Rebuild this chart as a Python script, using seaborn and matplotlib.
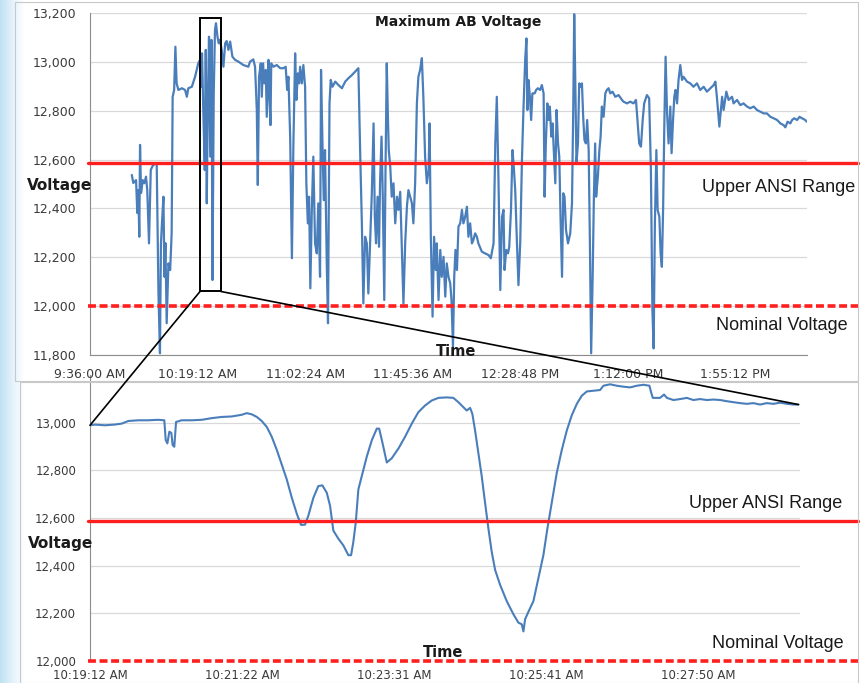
import numpy as np
import pandas as pd
import seaborn as sns
import matplotlib.pyplot as plt
from matplotlib.colors import LinearSegmentedColormap
from matplotlib.patches import Rectangle, ConnectionPatch
from matplotlib.ticker import FuncFormatter

# ---- upper chart: whole day, minutes after 9:36:00 AM ----
top_minutes = [
    16.8, 17.4, 18.5, 19.0, 19.4, 19.8, 20.1, 20.5, 21.2, 21.8,
    22.5, 23.0, 23.7, 24.4, 25.0, 26.1, 26.8, 27.5, 28.1, 28.5,
    28.9, 29.5, 29.9, 30.3, 30.8, 31.5, 32.2, 32.8, 33.2, 33.8,
    34.3, 34.8, 35.5, 36.9, 38.2, 38.9, 39.5, 40.9, 42.2, 43.5,
    44.2, 44.6, 45.0, 45.5, 46.1, 46.5, 46.9, 47.3, 47.8, 48.3,
    48.8, 49.2, 49.7, 50.2, 50.6, 51.2, 51.7, 52.2, 52.9, 53.6,
    54.3, 54.9, 55.6, 56.3, 57.2, 58.3, 59.6, 61.6, 63.6, 64.3,
    65.6, 66.3, 67.0, 67.4, 67.9, 68.6, 69.0, 69.5, 70.0, 70.6,
    71.0, 71.7, 72.1, 72.5, 72.8, 73.7, 75.0, 76.4, 77.7, 78.6,
    79.2, 79.7, 80.4, 81.1, 81.7, 82.4, 82.9, 83.5, 84.0, 84.4,
    85.1, 85.7, 86.4, 86.9, 87.5, 88.0, 88.5, 89.1, 89.7, 90.4,
    91.1, 91.7, 92.4, 92.8, 93.4, 93.9, 94.4, 95.1, 95.6, 96.2,
    96.7, 97.4, 98.5, 99.8, 101.2, 102.5, 103.8, 105.2, 106.5, 107.8,
    108.5, 109.2, 109.8, 110.5, 111.2, 111.8, 112.5, 113.2, 113.9, 114.4,
    114.9, 115.5, 116.1, 116.5, 117.1, 117.6, 118.2, 118.7, 119.2, 119.6,
    120.0, 120.6, 121.2, 121.9, 122.6, 123.3, 123.9, 124.6, 125.3, 125.9,
    126.6, 127.3, 127.9, 128.6, 129.3, 129.9, 130.6, 131.3, 131.9, 132.6,
    133.3, 133.9, 134.6, 135.3, 136.0, 136.4, 136.9, 137.6, 138.2, 138.9,
    139.3, 140.0, 140.7, 141.3, 142.0, 142.7, 143.3, 144.0, 144.7, 145.2,
    145.8, 146.3, 146.8, 147.4, 148.0, 148.7, 149.4, 150.0, 150.7, 151.4,
    152.0, 152.7, 153.4, 154.0, 154.7, 155.4, 156.0, 157.4, 158.7, 160.1,
    161.0, 162.1, 162.8, 163.4, 164.1, 164.8, 165.5, 166.1, 166.5, 167.2,
    167.9, 168.4, 169.1, 169.7, 170.3, 170.8, 171.5, 172.1, 172.8, 173.5,
    174.1, 174.8, 175.3, 175.7, 176.1, 176.7, 177.2, 177.7, 178.6, 179.2,
    179.9, 180.8, 181.5, 182.2, 182.6, 183.1, 183.7, 184.2, 184.7, 185.3,
    185.8, 186.3, 186.9, 187.4, 188.0, 188.5, 189.0, 189.6, 190.1, 190.6,
    191.2, 192.0, 192.9, 193.6, 194.1, 194.5, 194.9, 195.4, 196.0, 196.5,
    197.0, 197.6, 198.1, 198.6, 199.2, 199.7, 200.3, 200.8, 201.3, 201.9,
    202.4, 202.9, 203.3, 204.0, 204.6, 205.1, 205.6, 206.3, 207.0, 207.6,
    208.3, 209.0, 209.9, 211.0, 212.3, 213.7, 214.3, 215.7, 217.0, 218.3,
    219.3, 219.9, 220.6, 221.3, 222.0, 222.6, 223.7, 224.6, 225.3, 225.9,
    226.4, 226.9, 227.5, 228.0, 228.7, 229.2, 229.7, 230.2, 230.7, 231.2,
    231.8, 232.4, 233.1, 233.6, 234.2, 234.7, 235.2, 235.8, 236.4, 237.1,
    237.8, 238.4, 239.8, 241.1, 242.4, 243.8, 245.1, 246.5, 247.8, 249.2,
    250.5, 251.2, 251.8, 252.8, 253.9, 254.5, 255.6, 256.5, 257.9, 258.5,
    259.9, 261.2, 262.5, 263.9, 265.2, 266.6, 267.9, 269.3, 270.6, 271.9,
    273.3, 274.6, 276.0, 277.3, 278.6, 279.3, 280.2, 281.3, 282.0, 282.9,
    284.0, 285.0, 286.0, 287.3, 287.9,
]
top_volts = [
    12537, 12504, 12516, 12381, 12475, 12284, 12660, 12463, 12516, 12503,
    12530, 12475, 12257, 12557, 12571, 12585, 12578, 12052, 11807, 12257,
    12339, 12448, 12120, 12258, 11930, 12175, 12148, 12299, 12857, 12885,
    13062, 12912, 12885, 12892, 12885, 12857, 12892, 12898, 12939, 12994,
    13008, 12898, 13035, 12803, 12557, 13049, 12421, 12803, 13103, 12612,
    13090, 12107, 12871, 13130, 13158, 13103, 13076, 13090, 13049, 12980,
    13076, 13085, 13049, 13083, 13021, 13008, 13001, 12987, 12980, 13001,
    13010, 12980, 12803, 12496, 12939, 12994, 12857, 12994, 12912, 12967,
    12775, 13008, 12857, 12741, 12994, 12980, 12987, 12974, 12974, 12980,
    12885, 12939, 12694, 12196, 12666, 13035, 12844, 12953, 12912, 12980,
    12912, 12987, 12898, 12503, 12339, 12448, 12073, 12394, 12612, 12257,
    12216, 12421, 12120, 12967, 12653, 12434, 12639, 12175, 11930, 12830,
    12926, 12898, 12919, 12905, 12892, 12919, 12933, 12946, 12960, 12974,
    12639, 12339, 12011, 12284, 12257, 12052, 12257, 12462, 12748, 12366,
    12257, 12448, 12243, 12503, 12694, 12448, 12025, 12557, 12994, 12803,
    12639, 12571, 12448, 12503, 12339, 12448, 12394, 12468, 12230, 12011,
    12257, 12407, 12475, 12448, 12421, 12339, 12503, 12830, 12939, 12967,
    13015, 12857, 12612, 12503, 12557, 12748, 12284, 11957, 12284, 12148,
    12257, 12025, 12230, 12120, 12202, 12039, 12175, 12120, 12093, 12025,
    11834, 12120, 12230, 12148, 12325, 12339, 12394, 12339, 12366, 12407,
    12284, 12339, 12257, 12271, 12298, 12284, 12257, 12223, 12216, 12209,
    12196, 12257, 12666, 12857, 12503, 12066, 12366, 12394, 12148, 12230,
    12216, 12243, 12394, 12639, 12557, 12475, 12257, 12086, 12257, 12598,
    12803, 13008, 13096, 12803, 12926, 12857, 12762, 12871, 12871, 12885,
    12892, 12885, 12905, 12871, 12448, 12666, 12830, 12762, 12817, 12694,
    12748, 12639, 12503, 12803, 12666, 12612, 12366, 12120, 12462, 12448,
    12312, 12257, 12298, 12421, 12803, 13195, 12939, 12585, 12666, 12912,
    12898, 12912, 12775, 12680, 12666, 12762, 12639, 12257, 11807, 12120,
    12448, 12666, 12448, 12530, 12639, 12694, 12817, 12775, 12871, 12885,
    12892, 12871, 12878, 12857, 12864, 12844, 12837, 12830, 12837, 12830,
    12844, 12762, 12666, 12653, 12762, 12830, 12864, 12851, 12557, 11984,
    11827, 12339, 12639, 12394, 12366, 12216, 12161, 12394, 12748, 13021,
    12789, 12666, 12817, 12626, 12762, 12857, 12885, 12830, 12926, 12987,
    12926, 12939, 12919, 12912, 12898, 12912, 12885, 12898, 12878, 12892,
    12905, 12919, 12857, 12735, 12857, 12803, 12878, 12844, 12857, 12830,
    12844, 12823, 12830, 12817, 12810, 12817, 12803, 12796, 12789, 12789,
    12775, 12769, 12762, 12748, 12741, 12732, 12755, 12748, 12762, 12769,
    12762, 12775, 12769, 12762, 12755,
]
top_tick_labels = ["9:36:00 AM", "10:19:12 AM", "11:02:24 AM", "11:45:36 AM",
                   "12:28:48 PM", "1:12:00 PM", "1:55:12 PM"]

# ---- lower chart: zoomed window, seconds after 10:19:12 AM ----
bot_seconds = [
    0, 4.3, 12.8, 21.3, 27.0, 32.6, 41.2, 49.7, 58.2, 63.3,
    64.5, 65.9, 67.6, 69.3, 70.4, 71.8, 73.3, 78.1, 86.6, 95.2,
    103.7, 112.2, 120.7, 129.2, 133.5, 137.8, 142.1, 146.3, 150.6, 154.8,
    159.1, 163.4, 167.6, 171.9, 176.2, 179.8, 183.2, 186.0, 190.3, 194.5,
    197.9, 201.7, 204.5, 207.3, 211.6, 215.8, 220.1, 222.4, 224.3, 226.4,
    228.6, 231.5, 235.8, 240.1, 244.3, 246.3, 248.6, 252.8, 257.1, 262.8,
    268.4, 274.1, 279.7, 285.4, 291.1, 296.8, 303.9, 309.5, 313.8, 318.1,
    320.9, 323.8, 325.7, 328.0, 330.8, 333.7, 336.5, 339.4, 342.2, 345.1,
    349.3, 355.0, 360.7, 364.9, 367.8, 369.2, 370.6, 373.5, 377.7, 382.0,
    386.2, 389.6, 393.4, 397.6, 401.9, 406.2, 410.4, 414.7, 418.9, 423.2,
    428.8, 434.5, 437.4, 443.0, 448.7, 454.4, 460.1, 465.8, 471.4, 476.5,
    478.0, 479.4, 485.6, 489.0, 491.4, 497.0, 502.7, 508.4, 514.0, 519.7,
    525.4, 531.1, 536.8, 542.5, 548.1, 553.8, 559.5, 565.1, 570.8, 576.5,
    582.2, 587.9, 593.6, 599.2, 603.5,
]
bot_volts = [
    12989, 12992, 12989, 12992, 12996, 13007, 13010, 13010, 13012, 13010,
    12927, 12913, 12962, 12957, 12906, 12899, 13003, 13010, 13010, 13012,
    13019, 13024, 13026, 13033, 13040, 13035, 13024, 13007, 12982, 12941,
    12886, 12824, 12762, 12685, 12617, 12571, 12572, 12610, 12685, 12734,
    12737, 12706, 12651, 12547, 12513, 12485, 12444, 12444, 12499, 12582,
    12720, 12775, 12858, 12927, 12975, 12975, 12927, 12833, 12851, 12892,
    12941, 12996, 13044, 13072, 13093, 13104, 13106, 13104, 13086, 13065,
    13051, 13062, 13037, 12968, 12872, 12775, 12665, 12555, 12458, 12382,
    12320, 12251, 12196, 12161, 12154, 12124, 12175, 12207, 12251, 12348,
    12444, 12555, 12665, 12789, 12886, 12968, 13031, 13079, 13113, 13131,
    13134, 13137, 13155, 13161, 13155, 13151, 13148, 13155, 13159, 13155,
    13127, 13104, 13104, 13118, 13104, 13095, 13099, 13104, 13095, 13099,
    13095, 13097, 13095, 13090, 13086, 13082, 13079, 13082, 13076, 13082,
    13079, 13084, 13079, 13076, 13076,
]
bot_tick_labels = ["10:19:12 AM", "10:21:22 AM", "10:23:31 AM",
                   "10:25:41 AM", "10:27:50 AM"]

upper_ansi = 12588
nominal = 12000
box_minutes = [44.2, 52.6]      # zoom box drawn on the upper chart
box_volts = [12060, 13180]

LINE = '#4A7EBB'
RED = '#FF1F1F'
GRID = '#D9D9D9'
AXC = '#8C8C8C'
TXT = '#3A3A3A'

sns.set_style("white")
plt.rcParams['font.family'] = ['DejaVu Sans']

fig = plt.figure(figsize=(8.61, 6.83), dpi=100)

# light blue slide edge on the left
bg = fig.add_axes([0, 0, 0.028, 1], zorder=-10)
cmap = LinearSegmentedColormap.from_list('edge', ['#BFE1F3', '#E4F2FA', '#FFFFFF'])
bg.imshow(np.linspace(0, 1, 64).reshape(1, -1), cmap=cmap, aspect='auto')
bg.axis('off')

# picture frames
fig.add_artist(Rectangle((15 / 861, 1 - 381 / 683), 843 / 861, 379 / 683,
                         transform=fig.transFigure, fill=False, ec='#C8C8C8', lw=0.8))
fig.add_artist(Rectangle((20 / 861, 0), 838 / 861, 1 - 381 / 683 - 0.001,
                         transform=fig.transFigure, fill=False, ec='#C8C8C8', lw=0.8))

ax_bot = fig.add_axes([90 / 861, 1 - 661 / 683, 710 / 861, 286 / 683])
ax_top = fig.add_axes([90 / 861, 1 - 355 / 683, 717 / 861, 342 / 683])
for ax in (ax_top, ax_bot):
    ax.set_facecolor('none')

df_top = pd.DataFrame({'minutes': top_minutes, 'volts': top_volts})
df_bot = pd.DataFrame({'seconds': bot_seconds, 'volts': bot_volts})

sns.lineplot(data=df_top, x='minutes', y='volts', ax=ax_top, color=LINE,
             linewidth=1.6, estimator=None, sort=False)
sns.lineplot(data=df_bot, x='seconds', y='volts', ax=ax_bot, color=LINE,
             linewidth=1.5, estimator=None, sort=False)

volt_fmt = FuncFormatter(lambda v, p: f'{v:,.0f}')

# upper axes
ax_top.set_xlim(0, 288)
ax_top.set_ylim(11800, 13200)
ax_top.set_xticks([i * 43.2 for i in range(len(top_tick_labels))])
ax_top.set_xticklabels(top_tick_labels)
ax_top.set_yticks(np.arange(11800, 13201, 200))

# lower axes
ax_bot.set_xlim(0, 604.8)
ax_bot.set_ylim(12000, 13200)
ax_bot.set_xticks([i * 129.6 for i in range(len(bot_tick_labels))])
ax_bot.set_xticklabels(bot_tick_labels)
ax_bot.set_yticks(np.arange(12000, 13001, 200))

for ax in (ax_top, ax_bot):
    ax.yaxis.set_major_formatter(volt_fmt)
    ax.set_xlabel('')
    ax.set_ylabel('')
    ax.yaxis.grid(True, color=GRID, linewidth=0.9)
    ax.set_axisbelow(True)
    for s in ('top', 'right'):
        ax.spines[s].set_visible(False)
    ax.spines['left'].set_color(AXC)
    ax.spines['bottom'].set_color(AXC)

ax_top.tick_params(axis='y', length=4, color=AXC, pad=6, labelsize=9, labelcolor=TXT)
ax_top.tick_params(axis='x', length=4, color=AXC, pad=5, labelsize=9, labelcolor=TXT)
ax_bot.tick_params(axis='y', length=4, color=AXC, pad=6, labelsize=8.5, labelcolor=TXT)
ax_bot.tick_params(axis='x', length=0, pad=5.8, labelsize=8.5, labelcolor=TXT)
ax_bot.spines['bottom'].set_visible(False)

# limit lines running past the plot area to the right
for ax, ext in ((ax_top, 768 / 717), (ax_bot, 768 / 710)):
    ax.axhline(upper_ansi, xmin=-0.003, xmax=ext, color=RED, lw=2.4,
               clip_on=False, zorder=3)
    ax.axhline(nominal, xmin=-0.003, xmax=ext, color=RED, lw=2.6,
               ls=(0, (2.2, 1.0)), clip_on=False, zorder=3)

# titles / axis words
ax_top.text(0.513, 0.974, 'Maximum AB Voltage', transform=ax_top.transAxes,
            ha='center', va='center', fontsize=10, fontweight='bold', color='#1A1A1A')
ax_top.text(-0.042, 0.497, 'Voltage', transform=ax_top.transAxes,
            ha='center', va='center', fontsize=11, fontweight='bold', color='#1A1A1A')
ax_bot.text(-0.042, 0.41, 'Voltage', transform=ax_bot.transAxes,
            ha='center', va='center', fontsize=11, fontweight='bold', color='#1A1A1A')
ax_top.text(0.51, 0.009, 'Time', transform=ax_top.transAxes,
            ha='center', va='center', fontsize=10.5, fontweight='bold', color='#1A1A1A')
ax_bot.text(0.497, 0.03, 'Time', transform=ax_bot.transAxes,
            ha='center', va='center', fontsize=10.5, fontweight='bold', color='#1A1A1A')

narrow = ['Liberation Sans Narrow', 'Liberation Sans', 'DejaVu Sans']
fig.text(779 / 861, 1 - 188 / 683, 'Upper ANSI Range', family=narrow,
         ha='center', va='center', fontsize=13, color='#1A1A1A')
fig.text(782 / 861, 1 - 325 / 683, 'Nominal Voltage', family=narrow,
         ha='center', va='center', fontsize=13, color='#1A1A1A')
fig.text(766 / 861, 1 - 503 / 683, 'Upper ANSI Range', family=narrow,
         ha='center', va='center', fontsize=13, color='#1A1A1A')
fig.text(778 / 861, 1 - 644 / 683, 'Nominal Voltage', family=narrow,
         ha='center', va='center', fontsize=13, color='#1A1A1A')

# zoom box and connectors
ax_top.add_patch(Rectangle((box_minutes[0], box_volts[0]),
                           box_minutes[1] - box_minutes[0],
                           box_volts[1] - box_volts[0],
                           fill=False, ec='black', lw=1.4, zorder=5))
for bx, (sx, sv) in ((box_minutes[0], (bot_seconds[0], bot_volts[0])),
                     (box_minutes[1], (bot_seconds[-1], bot_volts[-1]))):
    con = ConnectionPatch(xyA=(bx, box_volts[0]), coordsA=ax_top.transData,
                          xyB=(sx, sv), coordsB=ax_bot.transData,
                          color='black', lw=1.2, zorder=6)
    fig.add_artist(con)

fig.savefig('out.png', dpi=100)
